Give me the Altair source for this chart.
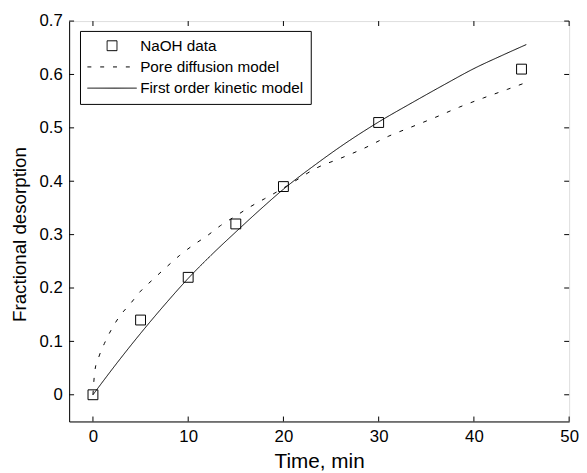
import altair as alt
import pandas as pd

series_names = ["NaOH data", "Pore diffusion model", "First order kinetic model"]

# measured data (squares)
data_t = [0, 5, 10, 15, 20, 30, 45]
data_v = [0.0, 0.14, 0.22, 0.32, 0.39, 0.51, 0.61]

# pore diffusion model (dashed)
pore_t = [0, 0.2, 0.6, 1.2, 1.9, 2.8, 3.9, 5, 6.3, 7.7, 9.1, 10.5, 12, 13.4, 15,
          16.5, 18, 19.5, 21, 23.5, 26, 28.5, 31, 33.5, 36, 38.5, 41, 43.5, 45.5]
pore_v = [0.0, 0.045, 0.07, 0.096, 0.121, 0.147, 0.17, 0.194, 0.216, 0.239, 0.261,
          0.28, 0.298, 0.317, 0.335, 0.352, 0.367, 0.382, 0.398, 0.425, 0.443,
          0.462, 0.484, 0.502, 0.52, 0.539, 0.556, 0.572, 0.585]

# first order kinetic model (solid)
kin_t = [0, 2.5, 5, 7.5, 10, 12.5, 15, 17.5, 20, 23.5, 26.5, 30, 33.5, 37, 40, 43, 45.5]
kin_v = [0.0, 0.059, 0.115, 0.168, 0.218, 0.263, 0.305, 0.346, 0.385, 0.433, 0.471,
         0.511, 0.547, 0.582, 0.611, 0.636, 0.656]

x_ticks = [0, 10, 20, 30, 40, 50]
y_ticks = [0, 0.1, 0.2, 0.3, 0.4, 0.5, 0.6, 0.7]

W, H = 507, 406
FONT = "Liberation Sans"
TICK = 5

pts = pd.DataFrame({"t": data_t, "v": data_v, "series": series_names[0]})
lines = pd.concat([
    pd.DataFrame({"t": pore_t, "v": pore_v, "series": series_names[1]}),
    pd.DataFrame({"t": kin_t, "v": kin_v, "series": series_names[2]}),
], ignore_index=True)

xs = alt.Scale(domain=[-2.5, 50], nice=False, zero=False)
ys = alt.Scale(domain=[-0.05, 0.7], nice=False, zero=False)

square_path = "M-0.2,-0.2H0.2V0.2H-0.2Z"

legend_kw = dict(
    title=None, orient="none", legendX=11, legendY=10, padding=7,
    strokeColor="black", fillColor="white",
    labelFont=FONT, labelFontSize=15.5, labelColor="black", labelOffset=3,
    labelLimit=400,
    rowPadding=4.5, clipHeight=16, symbolSize=2500, symbolStrokeWidth=1,
    symbolStrokeColor="black",
)

x_axis = alt.Axis(values=x_ticks, ticks=False, grid=False, domainColor="black",
                  labelFont=FONT, labelFontSize=17, labelColor="black",
                  labelPadding=7, labelFlush=False, labelOverlap=False,
                  title="Time, min", titleFont=FONT, titleFontSize=21,
                  titleFontWeight="normal", titleColor="black", titlePadding=7)
y_axis = alt.Axis(values=y_ticks, ticks=False, grid=False, domainColor="black",
                  labelFont=FONT, labelFontSize=17, labelColor="black",
                  labelPadding=7, labelFlush=False, labelOverlap=False,
                  format=".1~f",
                  title="Fractional desorption", titleFont=FONT, titleFontSize=19,
                  titleFontWeight="normal", titleColor="black", titlePadding=10,
                  titleY=216)

line_layer = alt.Chart(lines).mark_line(
    color="black", strokeWidth=1, interpolate="monotone"
).encode(
    x=alt.X("t:Q", scale=xs, axis=x_axis),
    y=alt.Y("v:Q", scale=ys, axis=y_axis),
    strokeDash=alt.StrokeDash(
        "series:N",
        scale=alt.Scale(domain=series_names, range=[[1, 0], [4, 9], [1, 0]]),
        legend=alt.Legend(**legend_kw),
    ),
    detail="series:N",
)

point_layer = alt.Chart(pts).mark_point(
    color="black", filled=False, strokeWidth=1, size=2500, opacity=1
).encode(
    x=alt.X("t:Q", scale=xs),
    y=alt.Y("v:Q", scale=ys),
    shape=alt.Shape(
        "series:N",
        scale=alt.Scale(domain=series_names, range=[square_path, "stroke", "stroke"]),
        legend=alt.Legend(**legend_kw),
    ),
)

xt = pd.DataFrame({"t": x_ticks})
yt = pd.DataFrame({"v": y_ticks})

tick_bottom = alt.Chart(xt).mark_rule(color="black", strokeWidth=1).encode(
    x=alt.X("t:Q", scale=xs), y=alt.value(H), y2=alt.value(H - TICK))
tick_top = alt.Chart(xt).mark_rule(color="black", strokeWidth=1).encode(
    x=alt.X("t:Q", scale=xs), y=alt.value(0), y2=alt.value(TICK))
tick_left = alt.Chart(yt).mark_rule(color="black", strokeWidth=1).encode(
    y=alt.Y("v:Q", scale=ys), x=alt.value(0), x2=alt.value(TICK))
tick_right = alt.Chart(yt).mark_rule(color="black", strokeWidth=1).encode(
    y=alt.Y("v:Q", scale=ys), x=alt.value(W), x2=alt.value(W - TICK))

chart = alt.layer(
    line_layer, point_layer, tick_bottom, tick_top, tick_left, tick_right
).properties(
    width=W, height=H,
    padding={"left": 62, "top": 10, "right": 10, "bottom": 49},
    autosize="none",
).configure_view(
    stroke="black", strokeWidth=1
).configure(background="white")

chart.save("out.html", embed_options={"renderer": "svg", "actions": False})
